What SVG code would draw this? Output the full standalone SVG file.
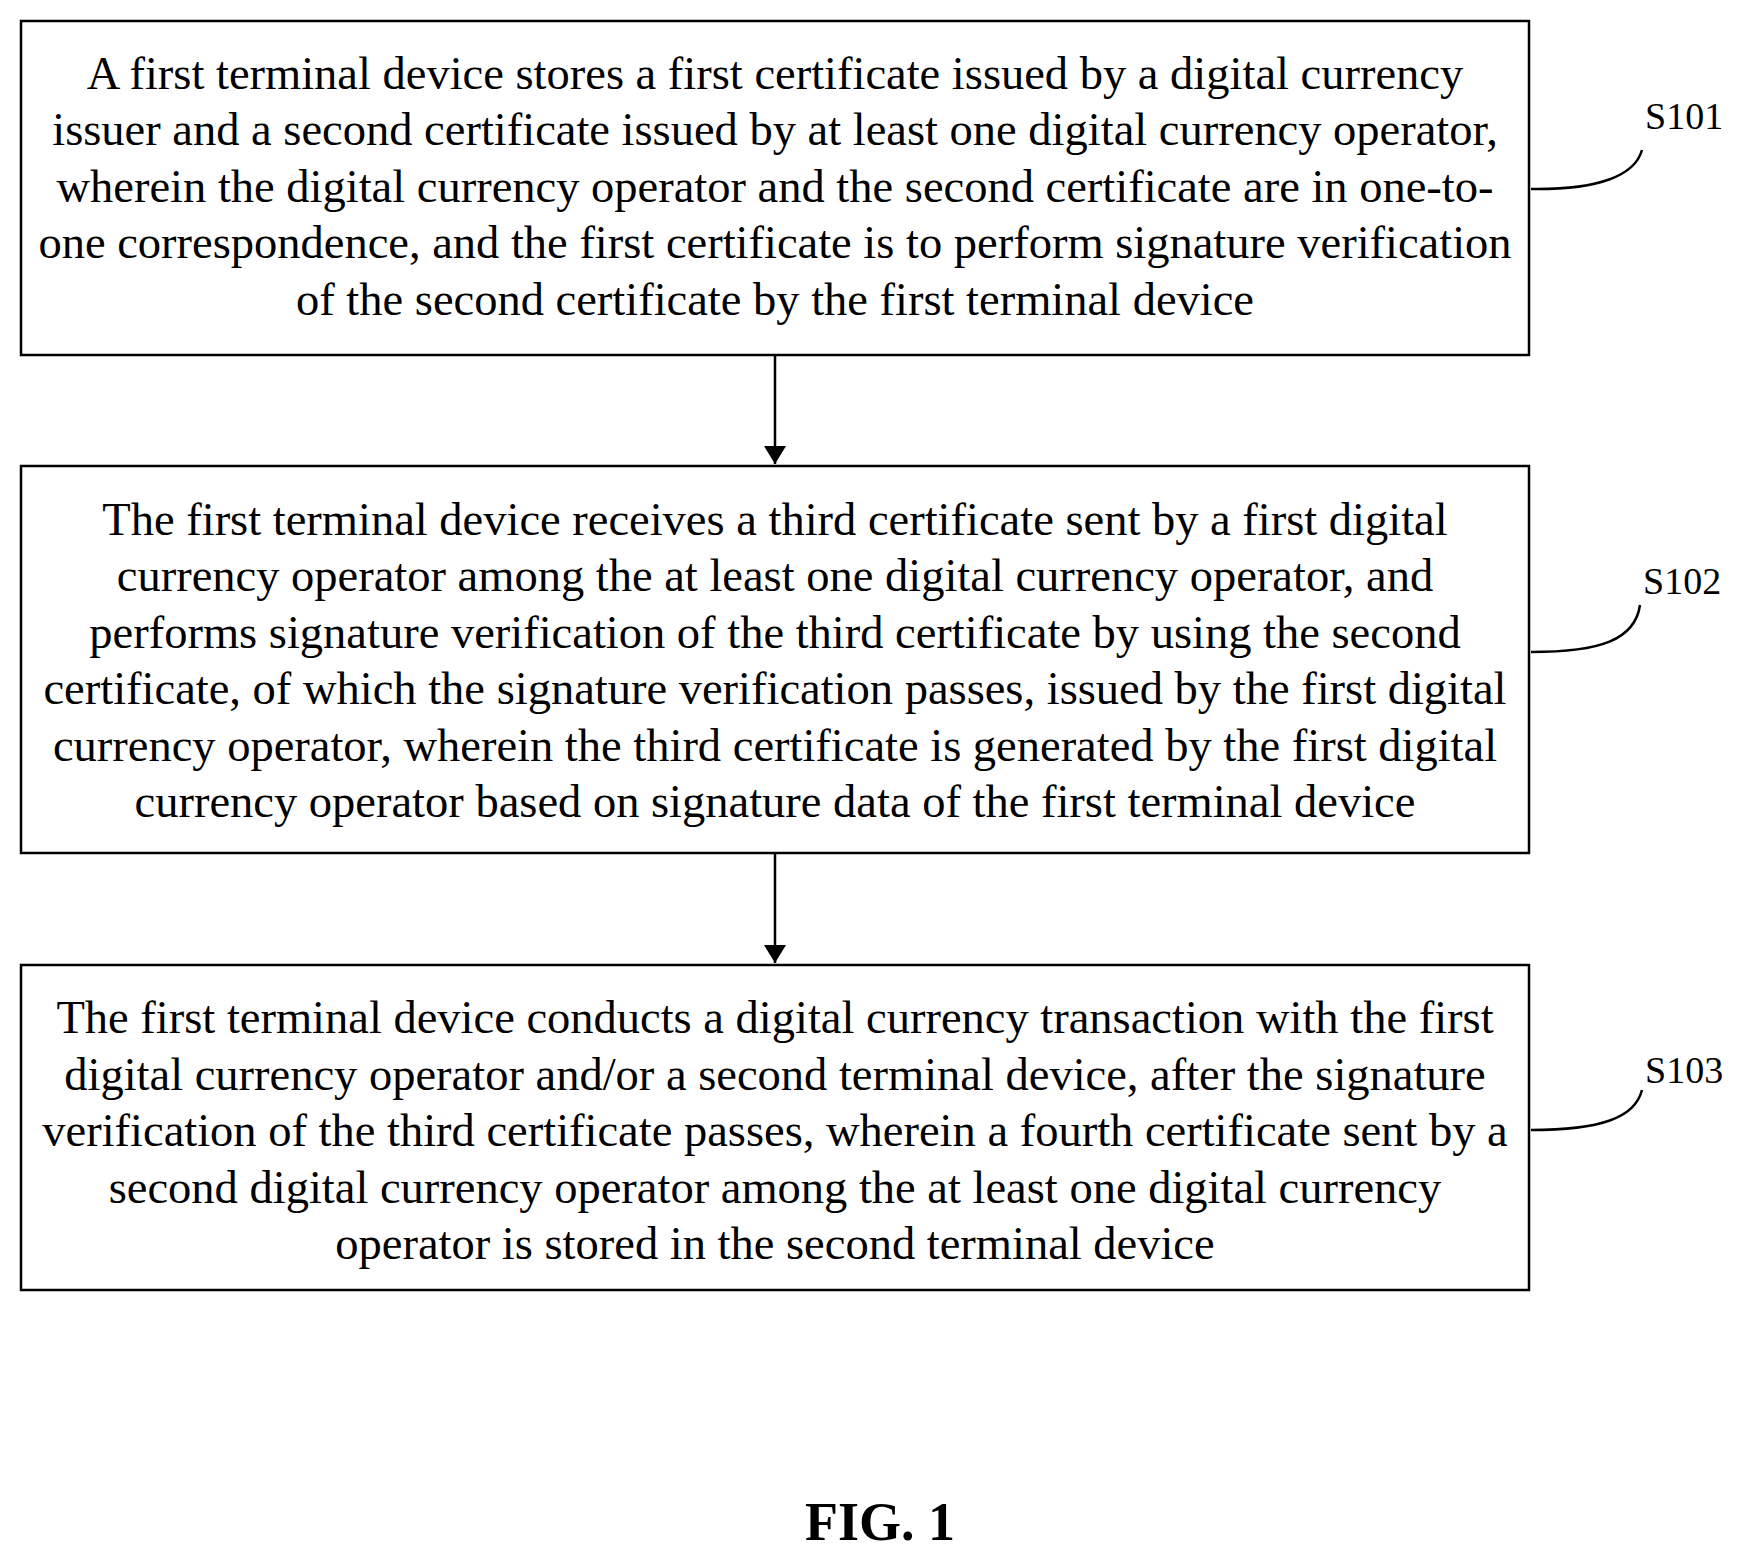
<svg xmlns="http://www.w3.org/2000/svg" width="1758" height="1559" viewBox="0 0 1758 1559">
<defs>
<style>
.b{fill:#fff;stroke:#000;stroke-width:2.5}
.t{font-family:"Liberation Serif",serif;font-size:46.5px;text-anchor:middle;fill:#000}
.l{font-family:"Liberation Serif",serif;font-size:38px;fill:#000}
.c{fill:none;stroke:#000;stroke-width:2.5}
</style>
<marker id="a" viewBox="0 0 10 10" refX="10" refY="5" markerWidth="18" markerHeight="22" orient="auto" markerUnits="userSpaceOnUse" preserveAspectRatio="none"><path d="M0,0L10,5L0,10z"/></marker>
</defs>
<rect width="1758" height="1559" fill="#fff"/>
<g id="n1">
<rect class="b" x="21" y="21" width="1508" height="334"/>
<text class="t" x="775" y="89">A first terminal device stores a first certificate issued by a digital currency</text>
<text class="t" x="775" y="145">issuer and a second certificate issued by at least one digital currency operator,</text>
<text class="t" x="775" y="202">wherein the digital currency operator and the second certificate are in one-to-</text>
<text class="t" x="775" y="258">one correspondence, and the first certificate is to perform signature verification</text>
<text class="t" x="775" y="315">of the second certificate by the first terminal device</text>
</g>
<g id="n2">
<rect class="b" x="21" y="466" width="1508" height="387"/>
<text class="t" x="775" y="535">The first terminal device receives a third certificate sent by a first digital</text>
<text class="t" x="775" y="591">currency operator among the at least one digital currency operator, and</text>
<text class="t" x="775" y="648">performs signature verification of the third certificate by using the second</text>
<text class="t" x="775" y="704">certificate, of which the signature verification passes, issued by the first digital</text>
<text class="t" x="775" y="761">currency operator, wherein the third certificate is generated by the first digital</text>
<text class="t" x="775" y="817">currency operator based on signature data of the first terminal device</text>
</g>
<g id="n3">
<rect class="b" x="21" y="965" width="1508" height="325"/>
<text class="t" x="775" y="1033">The first terminal device conducts a digital currency transaction with the first</text>
<text class="t" x="775" y="1090">digital currency operator and/or a second terminal device, after the signature</text>
<text class="t" x="775" y="1146">verification of the third certificate passes, wherein a fourth certificate sent by a</text>
<text class="t" x="775" y="1203">second digital currency operator among the at least one digital currency</text>
<text class="t" x="775" y="1259">operator is stored in the second terminal device</text>
</g>
<g id="labels">
<text class="l" x="1645" y="129">S101</text>
<text class="l" x="1643" y="594">S102</text>
<text class="l" x="1645" y="1083">S103</text>
<text x="880" y="1540" font-family="Liberation Serif,serif" font-size="54" font-weight="bold" text-anchor="middle">FIG. 1</text>
</g>
<g id="connectors">
<path class="c" d="M775,355V464" marker-end="url(#a)"/>
<path class="c" d="M775,853V963" marker-end="url(#a)"/>
<path class="c" d="M1531,189C1600,190 1635,175 1642,150"/>
<path class="c" d="M1531,652C1600,652 1635,640 1640,605"/>
<path class="c" d="M1531,1130C1600,1130 1635,1118 1642,1090"/>
</g>
</svg>
